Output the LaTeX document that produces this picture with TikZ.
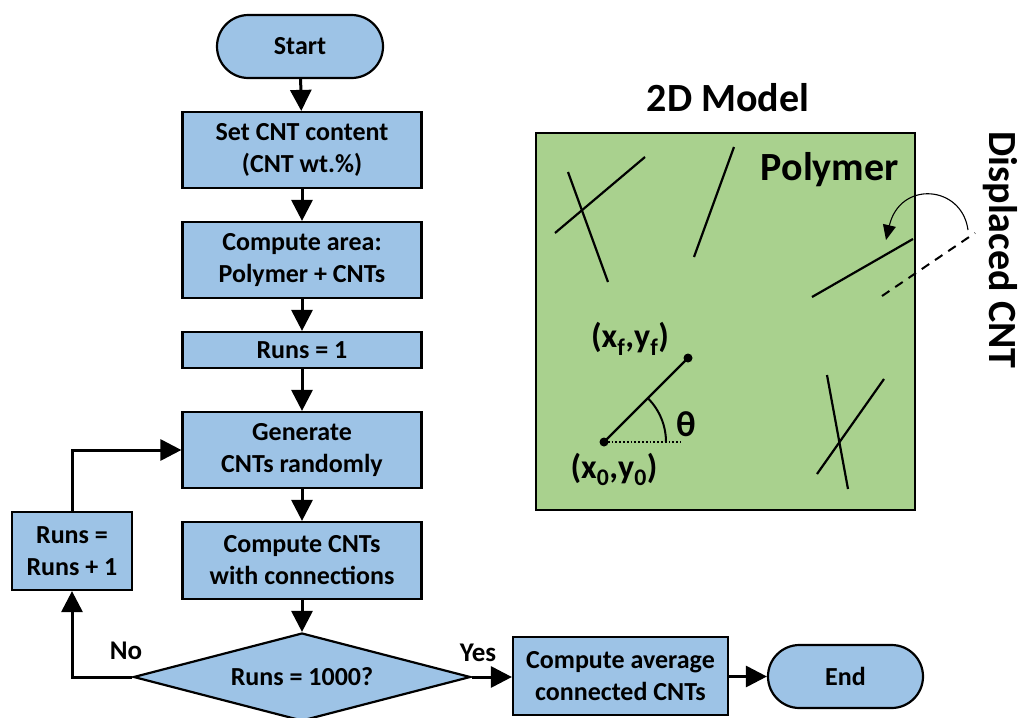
\documentclass[tikz,border=0pt]{standalone}
\usepackage{fontspec}
\setmainfont{Carlito}
\usetikzlibrary{arrows.meta,shapes.geometric,shapes.misc}
\definecolor{boxblue}{RGB}{157,195,230}
\definecolor{polygreen}{RGB}{169,209,142}
\begin{document}
\begin{tikzpicture}[x=1pt,y=-1pt,
  flow/.style={draw=black, line width=2.2pt, fill=boxblue, align=center,
    font=\fontsize{26}{32}\selectfont\bfseries, inner sep=0pt},
  stepbox/.style={flow, rectangle},
  termbox/.style={flow, rounded rectangle},
  decbox/.style={flow, diamond},
  flowarrow/.style={line width=3pt, -{Triangle[width=21pt,length=21pt]}},
  lbl/.style={font=\fontsize{27}{30}\selectfont\bfseries, inner sep=0pt},
  big/.style={font=\fontsize{40}{44}\selectfont\bfseries, inner sep=0pt},
  coord/.style={font=\fontsize{34}{38}\selectfont\bfseries, inner sep=0pt},
  cnt/.style={line width=2.2pt}]
\useasboundingbox (0,0) rectangle (1021,718);

% ---------------- flow chart ----------------
\node[termbox, minimum width=166pt, minimum height=63pt] (start) at (300,46.5) {Start};
\node[stepbox, minimum width=239pt, minimum height=76pt] (setcnt) at (302,150) {Set CNT content\\(CNT wt.\%)};
\node[stepbox, minimum width=239pt, minimum height=76pt] (area) at (302,260) {Compute area:\\Polymer + CNTs};
\node[stepbox, minimum width=239pt, minimum height=36pt] (runs1) at (302,350) {Runs = 1};
\node[stepbox, minimum width=239pt, minimum height=76pt] (gen) at (302,450) {Generate\\CNTs randomly};
\node[stepbox, minimum width=239pt, minimum height=77pt] (conn) at (302,560.5) {Compute CNTs\\with connections};
\node[decbox, minimum width=337pt, minimum height=88pt, aspect=3.83] (dec) at (302,677) {Runs = 1000?};
\node[stepbox, minimum width=120pt, minimum height=78pt] (inc) at (72,551) {Runs =\\Runs + 1};
\node[stepbox, minimum width=215pt, minimum height=78pt] (avg) at (620.5,676) {Compute average\\connected CNTs};
\node[termbox, minimum width=155pt, minimum height=63pt] (end) at (845.5,676.5) {End};

\draw[flowarrow] (start) -- (setcnt);
\draw[flowarrow] (setcnt) -- (area);
\draw[flowarrow] (area) -- (runs1);
\draw[flowarrow] (runs1) -- (gen);
\draw[flowarrow] (gen) -- (conn);
\draw[flowarrow] (conn) -- (dec);
\draw[flowarrow] (dec.west) -| (inc.south);
\draw[flowarrow] (inc.north) |- (gen.west);
\draw[flowarrow] (dec.east) -- (dec.east -| avg.west);
\draw[flowarrow] (avg.east |- end.west) -- (end.west);

\node[lbl] (no) at (126,651) {No};
\node[lbl] (yes) at (478,653) {Yes};

% ---------------- 2D model ----------------
\node[big] (title) at (728,98) {2D Model};
\node[draw=black, line width=2.2pt, fill=polygreen, minimum width=379pt,
  minimum height=377pt, inner sep=0pt] (model) at (725.5,321.5) {};
\node[big, anchor=east] (poly) at (899,170) {Polymer};

% random nanotubes
\draw[cnt] (555,233) -- (645,157);
\draw[cnt] (568,172) -- (608,282);
\draw[cnt] (694,257) -- (734,147);
\draw[cnt] (827,375) -- (848,489);
\draw[cnt] (817,474) -- (884,379);

% displaced nanotube
\draw[cnt] (812,297) -- (913,239);
\draw[line width=2pt, dash pattern=on 9pt off 7pt] (882,296) -- (975,233);
\draw[line width=1.1pt, -{Triangle[width=13pt,length=15pt]}]
  (968,230) .. controls (962,185) and (900,180) .. (886,240);
\node[big, rotate=-90] (disp) at (1000,250) {Displaced CNT};

% nanotube geometry
\coordinate (p0) at (604,442);
\coordinate (pf) at (688,358);
\draw[cnt] (p0) -- (pf);
\fill (p0) circle[radius=4.5pt];
\fill (pf) circle[radius=4.5pt];
\draw[line width=1.8pt, dotted] (p0) -- (681,442);
\draw[line width=2pt] (666,442) arc[start angle=0, end angle=-45, radius=62];
\node[font=\fontsize{36}{40}\selectfont\bfseries, inner sep=0pt] (theta) at (686,424) {θ};
\node[coord] (lf) at (630,339) {(x\textsubscript{f},y\textsubscript{f})};
\node[coord] (l0) at (614,469) {(x\textsubscript{0},y\textsubscript{0})};
\end{tikzpicture}
\end{document}
